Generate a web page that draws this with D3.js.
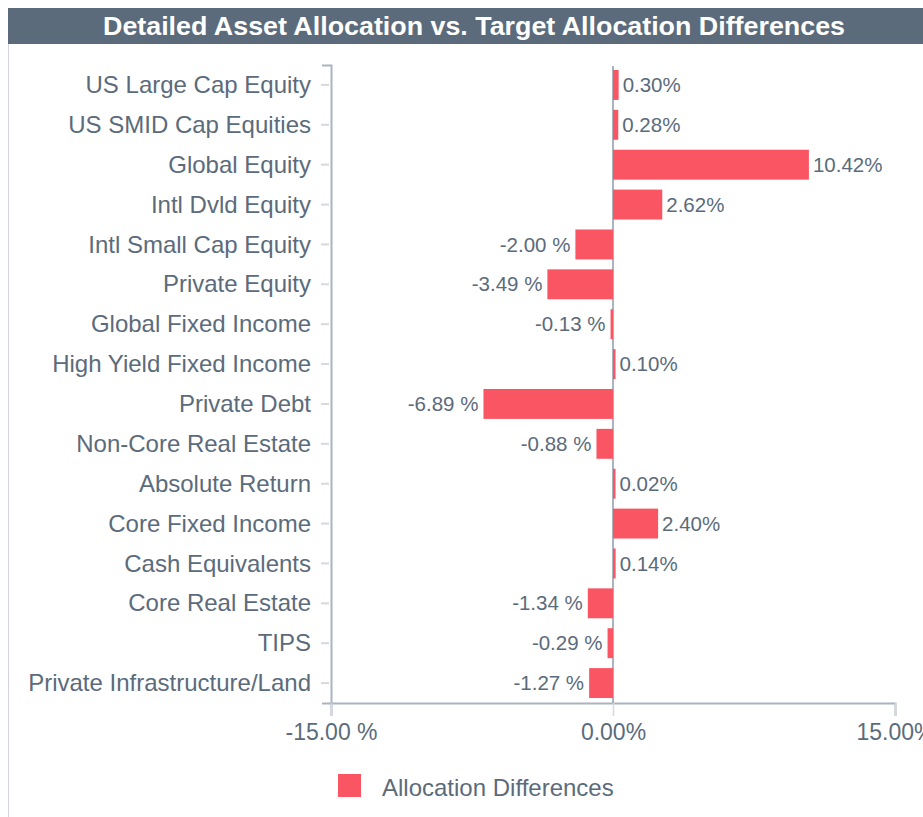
<!DOCTYPE html>
<html>
<head>
<meta charset="utf-8">
<script src="https://cdn.jsdelivr.net/npm/d3@7"></script>
<style>
  body { margin: 0; background: #fff; }
  text { font-family: "Liberation Sans", Arial, sans-serif; }
</style>
</head>
<body>
<svg id="chart" width="923" height="817"></svg>
<script>
var categories = ["US Large Cap Equity", "US SMID Cap Equities", "Global Equity", "Intl Dvld Equity",
    "Intl Small Cap Equity", "Private Equity", "Global Fixed Income", "High Yield Fixed Income",
    "Private Debt", "Non-Core Real Estate", "Absolute Return", "Core Fixed Income",
    "Cash Equivalents", "Core Real Estate", "TIPS", "Private Infrastructure/Land"];
var differences = [0.30, 0.28, 10.42, 2.62, -2.00, -3.49, -0.13, 0.10, -6.89, -0.88, 0.02, 2.40, 0.14, -1.34, -0.29, -1.27];
var xTicks = [-15, 0, 15];
var seriesName = "Allocation Differences";

var svg = d3.select("#chart");
var textColor = "#5b6b7b", barColor = "#f95563";

// percent label like the source: "-2.00 %" for negatives, "2.62%" otherwise
function pct(d) {
    var s = Math.abs(d).toFixed(2);
    return d < 0 ? "-" + s + " %" : s + "%";
}

// title bar + frame
svg.append("rect").attr("x", 8).attr("y", 8).attr("width", 915).attr("height", 36).attr("fill", "#5b6b7b");
svg.append("line").attr("x1", 8.5).attr("x2", 8.5).attr("y1", 44).attr("y2", 817).attr("stroke", "#cfd6dd");
svg.append("text").attr("x", 103).attr("y", 35)
    .attr("fill", "#fff").attr("font-size", 25).attr("font-weight", "bold")
    .attr("textLength", 742).attr("lengthAdjust", "spacingAndGlyphs")
    .text("Detailed Asset Allocation vs. Target Allocation Differences");

var x = d3.scaleLinear().domain([-15, 15]).range([331, 895]);
var y = d3.scaleBand().domain(categories).range([65, 703]).paddingInner(0.25).paddingOuter(0.125);

// y axis
var yAxis = svg.append("g").attr("transform", "translate(331,0)")
    .call(d3.axisLeft(y).tickSize(9).tickPadding(9));
yAxis.select(".domain").attr("stroke", "#a9b4bf").attr("stroke-width", 2);
yAxis.selectAll(".tick line").attr("stroke", "#d4d9de").attr("stroke-width", 2).attr("transform", "translate(-2,0)")
    .attr("x2", -8);
yAxis.selectAll(".tick text").attr("fill", textColor).attr("font-size", 24).attr("x", -20).attr("dy", "0.34em");

// zero line
svg.append("line").attr("x1", x(0)).attr("x2", x(0)).attr("y1", 66).attr("y2", 703)
    .attr("stroke", "#a9b4bf").attr("stroke-width", 2);

// x axis
var xAxis = svg.append("g").attr("transform", "translate(0,703)")
    .call(d3.axisBottom(x).tickValues(xTicks).tickSize(13).tickPadding(8).tickFormat(pct));
xAxis.select(".domain").attr("stroke", "#a9b4bf").attr("stroke-width", 2);
xAxis.selectAll(".tick line").attr("stroke", "#d4d9de").attr("stroke-width", 1.5);
xAxis.selectAll(".tick text").attr("fill", textColor).attr("font-size", 23);

// bars
svg.append("g").selectAll("rect").data(differences).join("rect")
    .attr("x", function (d) { return x(Math.min(0, d)); })
    .attr("y", function (d, i) { return y(categories[i]); })
    .attr("width", function (d) { return Math.max(2.5, Math.abs(x(d) - x(0))); })
    .attr("height", y.bandwidth())
    .attr("fill", barColor);

// value labels
svg.append("g").selectAll("text").data(differences).join("text")
    .attr("x", function (d) { return d < 0 ? x(d) - 5 : Math.max(x(d), x(0) + 2.5) + 4; })
    .attr("y", function (d, i) { return y(categories[i]) + y.bandwidth() / 2; })
    .attr("dy", "0.35em")
    .attr("text-anchor", function (d) { return d < 0 ? "end" : "start"; })
    .attr("fill", textColor).attr("font-size", 20.5)
    .text(pct);

// legend
var legend = svg.append("g").attr("transform", "translate(338,774)");
legend.append("rect").attr("width", 23).attr("height", 23).attr("fill", barColor);
legend.append("text").attr("x", 44).attr("y", 14).attr("dy", "0.35em")
    .attr("fill", textColor).attr("font-size", 24).text(seriesName);
</script>
</body>
</html>
